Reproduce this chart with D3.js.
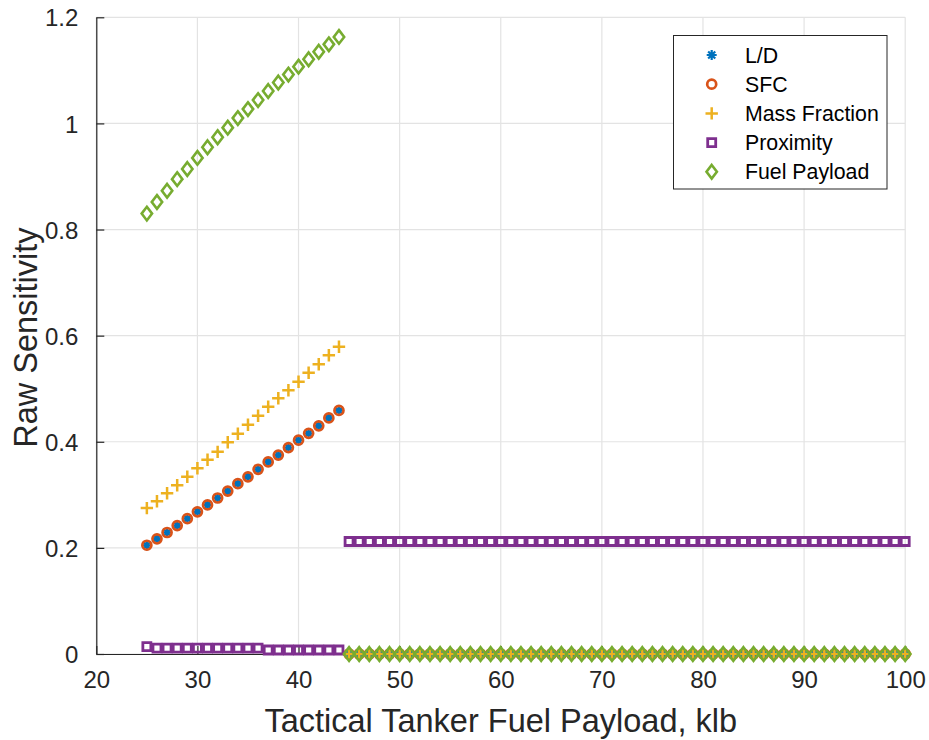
<!DOCTYPE html>
<html>
<head>
<meta charset="utf-8">
<script src="https://cdn.jsdelivr.net/npm/d3@7"></script>
<style>
  html, body { margin: 0; padding: 0; background: #fff; }
  svg { display: block; font-family: "Liberation Sans", Arial, Helvetica, sans-serif; }
</style>
</head>
<body>
<svg id="chart" width="929" height="740"></svg>
<script>
// Tanker fuel payload sweep, klb
const payloadKlb = [
  25, 26, 27, 28, 29, 30, 31, 32, 33, 34, 35, 36, 37, 38, 39, 40, 41, 42, 43, 44,
  45, 46, 47, 48, 49, 50, 51, 52, 53, 54, 55, 56, 57, 58,
  59, 60, 61, 62, 63, 64, 65, 66, 67, 68, 69, 70, 71, 72,
  73, 74, 75, 76, 77, 78, 79, 80, 81, 82, 83, 84, 85, 86,
  87, 88, 89, 90, 91, 92, 93, 94, 95, 96, 97, 98, 99, 100
];

// Raw sensitivities at each payload
const ldSens = [
  0.205, 0.217, 0.229, 0.242, 0.255, 0.268, 0.281, 0.294, 0.307, 0.321,
  0.334, 0.348, 0.362, 0.375, 0.389, 0.403, 0.416, 0.430, 0.445, 0.459,
  0, 0, 0, 0, 0, 0, 0, 0, 0, 0, 0, 0, 0, 0,
  0, 0, 0, 0, 0, 0, 0, 0, 0, 0, 0, 0, 0, 0,
  0, 0, 0, 0, 0, 0, 0, 0, 0, 0, 0, 0, 0, 0,
  0, 0, 0, 0, 0, 0, 0, 0, 0, 0, 0, 0, 0, 0
];
const sfcSens = [
  0.205, 0.217, 0.229, 0.242, 0.255, 0.268, 0.281, 0.294, 0.307, 0.321,
  0.334, 0.348, 0.362, 0.375, 0.389, 0.403, 0.416, 0.430, 0.445, 0.459,
  0, 0, 0, 0, 0, 0, 0, 0, 0, 0, 0, 0, 0, 0,
  0, 0, 0, 0, 0, 0, 0, 0, 0, 0, 0, 0, 0, 0,
  0, 0, 0, 0, 0, 0, 0, 0, 0, 0, 0, 0, 0, 0,
  0, 0, 0, 0, 0, 0, 0, 0, 0, 0, 0, 0, 0, 0
];
const massFracSens = [
  0.275, 0.288, 0.303, 0.318, 0.334, 0.350, 0.366, 0.381, 0.399, 0.415,
  0.432, 0.449, 0.466, 0.482, 0.497, 0.513, 0.530, 0.546, 0.563, 0.579,
  0, 0, 0, 0, 0, 0, 0, 0, 0, 0, 0, 0, 0, 0,
  0, 0, 0, 0, 0, 0, 0, 0, 0, 0, 0, 0, 0, 0,
  0, 0, 0, 0, 0, 0, 0, 0, 0, 0, 0, 0, 0, 0,
  0, 0, 0, 0, 0, 0, 0, 0, 0, 0, 0, 0, 0, 0
];
const proximitySens = [
  0.014, 0.011, 0.011, 0.011, 0.011, 0.011, 0.011, 0.011, 0.011, 0.011,
  0.011, 0.011, 0.0075, 0.0075, 0.0075, 0.0075, 0.0075, 0.0075, 0.0075, 0.0075,
  0.212, 0.212, 0.212, 0.212, 0.212, 0.212, 0.212, 0.212, 0.212, 0.212, 0.212, 0.212, 0.212, 0.212,
  0.212, 0.212, 0.212, 0.212, 0.212, 0.212, 0.212, 0.212, 0.212, 0.212, 0.212, 0.212, 0.212, 0.212,
  0.212, 0.212, 0.212, 0.212, 0.212, 0.212, 0.212, 0.212, 0.212, 0.212, 0.212, 0.212, 0.212, 0.212,
  0.212, 0.212, 0.212, 0.212, 0.212, 0.212, 0.212, 0.212, 0.212, 0.212, 0.212, 0.212, 0.212, 0.212
];
const fuelPayloadSens = [
  0.830, 0.852, 0.873, 0.895, 0.914, 0.935, 0.955, 0.974, 0.992, 1.010,
  1.027, 1.044, 1.061, 1.077, 1.092, 1.107, 1.121, 1.135, 1.149, 1.163,
  0, 0, 0, 0, 0, 0, 0, 0, 0, 0, 0, 0, 0, 0,
  0, 0, 0, 0, 0, 0, 0, 0, 0, 0, 0, 0, 0, 0,
  0, 0, 0, 0, 0, 0, 0, 0, 0, 0, 0, 0, 0, 0,
  0, 0, 0, 0, 0, 0, 0, 0, 0, 0, 0, 0, 0, 0
];

const seriesNames = ["L/D", "SFC", "Mass Fraction", "Proximity", "Fuel Payload"];
const xTicks = [20, 30, 40, 50, 60, 70, 80, 90, 100];
const yTicks = [0, 0.2, 0.4, 0.6, 0.8, 1, 1.2];

const xLabel = "Tactical Tanker Fuel Payload, klb";
const yLabel = "Raw Sensitivity";

// Marker shapes (MATLAB-style)
const markerPaths = {
  asterisk: () => {
    const r = 5, d = r * 0.7071;
    return `M${-r},0L${r},0M0,${-r}L0,${r}M${-d},${-d}L${d},${d}M${-d},${d}L${d},${-d}`;
  },
  circle: () => {
    const r = 4.5;
    return `M${r},0A${r},${r} 0 1,1 ${-r},0A${r},${r} 0 1,1 ${r},0Z`;
  },
  plus: () => {
    const r = 6.2;
    return `M${-r},0L${r},0M0,${-r}L0,${r}`;
  },
  square: () => {
    const r = 4;
    return `M${-r},${-r}L${r},${-r}L${r},${r}L${-r},${r}Z`;
  },
  diamond: () => {
    const w = 5.2, h = 6.8;
    return `M0,${-h}L${w},0L0,${h}L${-w},0Z`;
  }
};

const series = [
  { name: seriesNames[0], values: ldSens, color: "#0072BD", marker: "asterisk", width: 2.2 },
  { name: seriesNames[1], values: sfcSens, color: "#D95319", marker: "circle", width: 2.7 },
  { name: seriesNames[2], values: massFracSens, color: "#EDB120", marker: "plus", width: 2.5 },
  { name: seriesNames[3], values: proximitySens, color: "#7E2F8E", marker: "square", width: 2.8 },
  { name: seriesNames[4], values: fuelPayloadSens, color: "#77AC30", marker: "diamond", width: 2.6 }
];

const svg = d3.select("#chart");
const margin = { left: 96.3, right: 929 - 905.2, top: 17.3, bottom: 740 - 654 };
const W = 929, H = 740;
const textColor = "#262626";

const x = d3.scaleLinear().domain([20, 100]).range([margin.left, W - margin.right]);
const y = d3.scaleLinear().domain([0, 1.2]).range([H - margin.bottom, margin.top]);

// Grid
const grid = svg.append("g");
grid.selectAll("line.vx").data(xTicks).join("line")
  .attr("x1", d => x(d)).attr("x2", d => x(d))
  .attr("y1", y(0)).attr("y2", y(1.2))
  .attr("stroke", "#e3e3e3").attr("stroke-width", 1.2);
grid.selectAll("line.hy").data(yTicks).join("line")
  .attr("x1", x(20)).attr("x2", x(100))
  .attr("y1", d => y(d)).attr("y2", d => y(d))
  .attr("stroke", "#e3e3e3").attr("stroke-width", 1.2);

// Axes
const xAxis = d3.axisBottom(x).tickValues(xTicks).tickSizeInner(-8).tickSizeOuter(0).tickPadding(17)
  .tickFormat(d3.format("d"));
const yAxis = d3.axisLeft(y).tickValues(yTicks).tickSizeInner(-8).tickSizeOuter(0).tickPadding(18)
  .tickFormat(d => d === 0 ? "0" : (d === 1 ? "1" : d3.format(".1f")(d)));

const gx = svg.append("g").attr("transform", `translate(0,${y(0)})`).call(xAxis);
const gy = svg.append("g").attr("transform", `translate(${x(20)},0)`).call(yAxis);
[gx, gy].forEach(g => {
  g.select(".domain").attr("stroke", textColor).attr("stroke-width", 1.2);
  g.selectAll(".tick line").attr("stroke", textColor).attr("stroke-width", 1.2);
  g.selectAll(".tick text").attr("fill", textColor).style("font-size", "24px")
    .style("font-family", "'Liberation Sans', Arial, sans-serif");
});
gy.selectAll(".tick text").attr("dy", "0.36em");

// Axis titles
svg.append("text")
  .attr("x", (x(20) + x(100)) / 2).attr("y", 731.5)
  .attr("text-anchor", "middle").attr("fill", textColor)
  .style("font-size", "32.5px").text(xLabel);
svg.append("text")
  .attr("transform", `translate(37,${(y(0) + y(1.2)) / 2 + 2}) rotate(-90)`)
  .attr("text-anchor", "middle").attr("fill", textColor)
  .style("font-size", "32.5px").text(yLabel);

// Data markers
const plot = svg.append("g");
series.forEach(s => {
  const pts = payloadKlb.map((px, i) => [px, s.values[i]]);
  plot.append("g").selectAll("path").data(pts).join("path")
    .attr("transform", d => `translate(${x(d[0])},${y(d[1])})`)
    .attr("d", markerPaths[s.marker]())
    .attr("fill", "none")
    .attr("stroke", s.color)
    .attr("stroke-width", s.width);
});

// Legend
const lg = svg.append("g");
lg.append("rect")
  .attr("x", 673.5).attr("y", 35.5).attr("width", 213.5).attr("height", 153.5)
  .attr("fill", "#fff").attr("stroke", textColor).attr("stroke-width", 1);
series.forEach((s, i) => {
  const cy = 55 + i * 29.2;
  lg.append("path")
    .attr("transform", `translate(711.7,${cy})`)
    .attr("d", markerPaths[s.marker]())
    .attr("fill", "none").attr("stroke", s.color).attr("stroke-width", s.width);
  lg.append("text")
    .attr("x", 745).attr("y", cy).attr("dy", "0.36em")
    .attr("fill", "#000").style("font-size", "21.3px")
    .text(s.name);
});
</script>
</body>
</html>
